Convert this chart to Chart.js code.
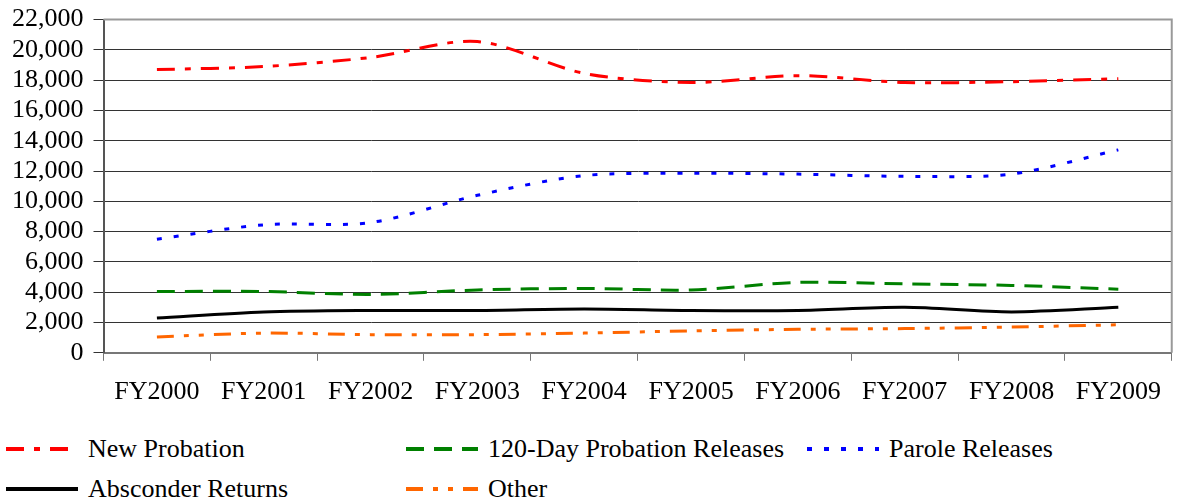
<!DOCTYPE html>
<html>
<head>
<meta charset="utf-8">
<script src="https://cdn.jsdelivr.net/npm/chart.js@4.4.0/dist/chart.umd.min.js"></script>
<style>
    body { margin: 0; background: #fff; font-family: 'Liberation Serif', serif; overflow: hidden; }
    #wrap { position: relative; width: 1177px; height: 500px; overflow: hidden; }
    #chart-box { position: absolute; left: 0; top: -6px; width: 1177px; height: 430px; }
    .legend-item { position: absolute; display: flex; align-items: center; font-family: 'Liberation Serif', serif; font-size: 26px; line-height: 30px; color: #000; white-space: nowrap; }
    .legend-item svg { margin-right: 10px; }
</style>
</head>
<body>
<div id="wrap">
    <div id="chart-box"><canvas id="case-chart"></canvas></div>
    <div id="legend"></div>
</div>
<script>
const categories = ["FY2000", "FY2001", "FY2002", "FY2003", "FY2004", "FY2005", "FY2006", "FY2007", "FY2008", "FY2009"];

const newProbation = [18700, 18900, 19500, 20550, 18450, 17850, 18300, 17850, 17900, 18100];
const dayProbationReleases = [4050, 4050, 3850, 4150, 4250, 4150, 4650, 4550, 4450, 4200];
const paroleReleases = [7500, 8450, 8600, 10400, 11700, 11850, 11800, 11650, 11800, 13400];
const absconderReturns = [2300, 2700, 2800, 2800, 2900, 2800, 2800, 3000, 2700, 3000];
const otherReleases = [1050, 1300, 1200, 1200, 1300, 1450, 1550, 1600, 1700, 1850];

const yTicks = [0, 2000, 4000, 6000, 8000, 10000, 12000, 14000, 16000, 18000, 20000, 22000];

const seriesList = [
    { label: "New Probation", data: newProbation, color: "#ff0000", dash: [18, 10, 6, 10] },
    { label: "120-Day Probation Releases", data: dayProbationReleases, color: "#008000", dash: [18, 10] },
    { label: "Parole Releases", data: paroleReleases, color: "#0000ff", dash: [5, 12] },
    { label: "Absconder Returns", data: absconderReturns, color: "#000000", dash: [] },
    { label: "Other", data: otherReleases, color: "#ff6600", dash: [17, 10, 5, 10, 5, 10] }
];

// legend slots (sample start x, row centre y), same grid as the original
const legendSlots = [[6, 449], [406, 449], [807, 449], [6, 489], [406, 489]];

function main() {

    Chart.defaults.font.family = "'Liberation Serif', serif";

    const plotBorder = {
        id: 'plotBorder',
        afterDraw(chart) {
            const { ctx, chartArea } = chart;
            ctx.save();
            ctx.strokeStyle = '#999';
            ctx.lineWidth = 2;
            ctx.beginPath();
            ctx.moveTo(chartArea.left, chartArea.top);
            ctx.lineTo(chartArea.right, chartArea.top);
            ctx.lineTo(chartArea.right, chartArea.bottom);
            ctx.stroke();
            ctx.restore();
        }
    };

    const renderChart = () => {
        const caseChartElement = document.querySelector("#case-chart");

        new Chart(caseChartElement, {
            type: 'line',
            data: {
                labels: categories,
                datasets: seriesList.map((s) => ({
                    label: s.label,
                    data: s.data,
                    borderColor: s.color,
                    backgroundColor: s.color,
                    borderDash: s.dash,
                    borderWidth: 3,
                    pointRadius: 0,
                    tension: 0.3,
                    fill: false
                }))
            },
            options: {
                responsive: true,
                maintainAspectRatio: false,
                animation: false,
                layout: { padding: { left: 2, top: 0, right: 1, bottom: 0 } },
                plugins: {
                    legend: { display: false },
                    tooltip: { enabled: false }
                },
                scales: {
                    x: {
                        offset: true,
                        grid: { offset: true, drawOnChartArea: false, drawTicks: true, tickLength: 8, color: '#777' },
                        border: { color: '#777', width: 2 },
                        ticks: { color: '#000', padding: 16, font: { size: 26 }, maxRotation: 0 }
                    },
                    y: {
                        min: 0,
                        max: 22000,
                        afterBuildTicks: (axis) => { axis.ticks = yTicks.map((v) => ({ value: v })); },
                        grid: { color: '#333', lineWidth: 1, tickLength: 10 },
                        border: { color: '#555', width: 2 },
                        ticks: {
                            color: '#000',
                            padding: 10,
                            autoSkip: false,
                            font: { size: 26 },
                            callback: (v) => v.toLocaleString('en-US')
                        }
                    }
                }
            },
            plugins: [plotBorder]
        });
    };

    const renderLegend = () => {
        const legendElement = document.querySelector("#legend");

        seriesList.forEach((s, index) => {
            const [x, y] = legendSlots[index];
            legendElement.innerHTML += `
                <div class="legend-item" style="left:${x}px; top:${y - 15}px; height:30px;">
                    <svg width="72" height="8"><line x1="0" y1="4" x2="72" y2="4" stroke="${s.color}" stroke-width="4" stroke-dasharray="${s.dash.join(' ') || 'none'}"/></svg>
                    <span>${s.label}</span>
                </div>`;
        });
    };

    renderChart();
    renderLegend();
}

main();
</script>
</body>
</html>
